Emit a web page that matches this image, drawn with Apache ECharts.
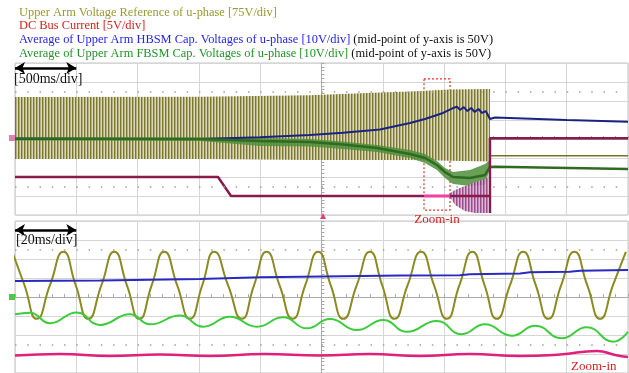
<!DOCTYPE html>
<html><head><meta charset="utf-8">
<script src="https://cdn.jsdelivr.net/npm/echarts@6/dist/echarts.min.js"></script>
<style>html,body{margin:0;padding:0;background:#fff}#c{width:629px;height:373px}</style>
</head><body><div id="c"></div>
<script>
// ===== Top panel: x = time in ms (500 ms/div, 0 at screen centre), y = divisions =====
const oliveBandTime  = [-2500, -991, -94, 477, 722, 1048, 1374];
const oliveBandUpper = [2.21, 2.23, 2.30, 2.45, 2.50, 2.60, 2.63];
const oliveBandLower = [-1.05, -1.05, -1.10, -1.10, -1.10, -1.15, -1.19];
const oliveAfterTrip = [[1374, -0.88], [2500, -0.88]];

const greenBandTime  = [-2500, -991, -502, -94, 175, 453, 722, 844, 942, 1007, 1073, 1211, 1334, 1374];
const greenBandUpper = [0.08, 0.08, 0.05, 0.00, -0.13, -0.32, -0.58, -0.79, -1.16, -1.53, -1.74, -1.63, -1.32, -1.11];
const greenBandLower = [-0.08, -0.11, -0.37, -0.39, -0.53, -0.68, -1.00, -1.26, -1.63, -2.05, -2.37, -2.47, -2.42, -1.53];
const greenTop = [[-2500, 0.02], [-991, 0.0], [-502, -0.11], [-94, -0.16], [175, -0.29], [453, -0.47], [722, -0.79],
  [844, -1.0], [942, -1.37], [1007, -1.74], [1073, -2.0], [1211, -2.05], [1334, -1.89], [1374, -1.47], [1415, -1.46], [2500, -1.58]];

const blueTop = [[-2500, 0.0], [-991, 0.0], [-502, 0.09], [-94, 0.21], [175, 0.33], [477, 0.50], [722, 0.84], [844, 1.05],
  [991, 1.37], [1073, 1.63], [1105, 1.70], [1130, 1.53], [1160, 1.68], [1190, 1.47], [1220, 1.63], [1250, 1.42], [1280, 1.58],
  [1310, 1.37], [1340, 1.47], [1374, 1.05], [1415, 1.13], [2000, 1.0], [2500, 0.91]];

const currentTime  = [1048, 1090, 1170, 1252, 1358];
const currentUpper = [-2.84, -2.68, -2.47, -2.26, -2.05];
const currentLower = [-3.05, -3.47, -3.79, -3.89, -3.89];
const currentTop = [[-2500, -2.0], [-844, -2.0], [-738, -3.0], [1048, -3.0], [1374, -3.0], [1374, -3.9], [1374, 0.04], [2500, 0.04]];
const currentZoomed = [[836, -3.0], [1048, -3.0]];
const zoomBox = [[836, 3.16], [1048, -3.74]];

// ===== Bottom panel: x = time in ms (20 ms/div), y = divisions =====
const voltRef = [[-100.9, 2.38], [-96.9, 0.62], [-92.9, -1.15], [-88.6, 0.62], [-84.2, 2.38], [-80.2, 0.62], [-76.1, -1.15],
  [-71.8, 0.62], [-67.6, 2.38], [-63.5, 0.62], [-59.4, -1.15], [-55.4, 0.62], [-51.3, 2.38], [-47.1, 0.62], [-42.9, -1.15],
  [-38.9, 0.62], [-35.0, 2.38], [-30.5, 0.62], [-26.0, -1.15], [-22.0, 0.62], [-17.9, 2.38], [-13.7, 0.62], [-9.4, -1.15],
  [-5.3, 0.62], [-1.1, 2.38], [3.0, 0.62], [7.1, -1.15], [11.5, 0.62], [15.8, 2.38], [19.8, 0.62], [23.8, -1.15],
  [28.1, 0.62], [32.5, 2.38], [36.7, 0.62], [40.9, -1.15], [45.0, 0.62], [49.2, 2.38], [53.2, 0.62], [57.2, -1.15],
  [61.5, 0.62], [65.8, 2.38], [69.9, 0.62], [74.0, -1.15], [78.2, 0.62], [82.5, 2.38], [86.7, 0.62], [90.9, -1.15],
  [95.1, 0.62], [99.3, 2.38]];
const hbsmAvg = [[-100, 0.84], [-72.3, 0.87], [-39.6, 0.95], [-20.1, 1.04], [0.2, 1.08], [25.6, 1.13], [45.2, 1.15],
  [48.4, 1.20], [64.8, 1.24], [68.0, 1.30], [81.0, 1.33], [84.3, 1.38], [100, 1.42]];
const fbsmAvg = [[-100, -0.91], [-95.1, -0.83], [-88.6, -1.38], [-79.9, -0.81], [-72.3, -1.47], [-62.5, -0.91], [-55.9, -1.44],
  [-46.2, -0.98], [-38.6, -1.56], [-29.9, -1.04], [-21.1, -1.56], [-12.5, -1.07], [-4.8, -1.65], [2.8, -1.16], [11.5, -1.74],
  [20.2, -1.21], [27.8, -1.83], [37.6, -1.26], [45.7, -1.96], [53.3, -1.44], [62.1, -2.04], [69.7, -1.51], [78.4, -2.17],
  [86.5, -1.59], [95.2, -2.35], [100, -1.83]];
const dcCurrent = [[-100, -3.08], [-85.3, -3.0], [-69.0, -3.11], [-52.7, -3.03], [-36.4, -3.11], [-18.5, -3.0], [-0.5, -3.08],
  [15.8, -3.0], [32.1, -3.11], [48.4, -3.0], [64.8, -3.11], [77.8, -3.03], [89.9, -2.84], [95.8, -3.05], [100, -3.16]];

const titleLines = [
  'Upper Arm Voltage Reference of u-phase [75V/div]',
  'DC Bus Current [5V/div]',
  'Average of Upper Arm HBSM Cap. Voltages of u-phase [10V/div]',
  'Average of Upper Arm FBSM Cap. Voltages of u-phase [10V/div]',
  ' (mid-point of y-axis is 50V)'
];

// stripe pattern for the densely oscillating traces
function stripes(cols) {
  const c = document.createElement('canvas');
  c.width = cols.length; c.height = 4;
  const g = c.getContext('2d');
  cols.forEach((col, i) => { g.fillStyle = col; g.fillRect(i, 0, 1, 4); });
  return c;
}
const pc = stripes(['#7b7733', '#b3af7c', '#dcd9b9']);
const pm = stripes(['#8e3a7e', '#b774ac', '#d9b2d2']);

const SERIF = 'Liberation Serif';
const F = '12.4px "' + SERIF + '"';
const gridLine = { show: true, lineStyle: { color: '#d6d6d6', width: 1 } };
function axisCommon() {
  return { axisLabel: { show: false }, splitLine: gridLine,
    axisLine: { show: true, onZero: true, lineStyle: { color: '#a9a9a9' } },
    axisTick: { show: true, inside: true, length: 3, lineStyle: { color: '#a9a9a9' } },
    minorTick: { show: true, splitNumber: 5, length: 3, lineStyle: { color: '#a9a9a9' } } };
}
function xAx(idx, min, max, step) {
  return Object.assign({ type: 'value', gridIndex: idx, min, max, interval: step }, axisCommon());
}
function yAx(idx) {
  return Object.assign({ type: 'value', gridIndex: idx, min: -4, max: 4, interval: 1 }, axisCommon());
}
const dotted = {
  silent: true, symbol: 'none', label: { show: false },
  lineStyle: { type: [1.5, 10.76], color: '#a0a0a0', width: 1.5 },
  data: [{ yAxis: 2.5 }, { yAxis: -2.5 }]
};
function arrowLine(x0, x1, y) {
  return { silent: true, symbol: ['arrow', 'arrow'], symbolSize: [9, 10], label: { show: false },
    lineStyle: { type: 'solid', color: '#000', width: 2.5 },
    data: [[{ coord: [x0, y] }, { coord: [x1, y] }]] };
}
const base = { type: 'line', symbol: 'none', silent: true, animation: false };
// envelope band (min..max of a dense oscillation) drawn as one polygon through the axes
function band(t, up, lo, style) {
  return { type: 'custom', xAxisIndex: 0, yAxisIndex: 0, silent: true, clip: true, animation: false,
    data: t.map((x, i) => [x, up[i], lo[i]]),
    encode: { x: 0, y: [1, 2] },
    renderItem: (params, api) => {
      if (params.dataIndex !== 0) return null;
      const pts = [];
      for (let i = 0; i < t.length; i++) pts.push(api.coord([t[i], up[i]]));
      for (let i = t.length - 1; i >= 0; i--) pts.push(api.coord([t[i], lo[i]]));
      return { type: 'polygon', shape: { points: pts }, style: style };
    } };
}

const option = {
  animation: false,
  grid: [
    { left: 15, top: 63, width: 613, height: 152, show: true, borderColor: '#c4c4c4', borderWidth: 1 },
    { left: 15, top: 221, width: 613, height: 152, show: true, borderColor: '#c4c4c4', borderWidth: 1 }
  ],
  xAxis: [xAx(0, -2500, 2500, 500), xAx(1, -100, 100, 20)],
  yAxis: [yAx(0), yAx(1)],
  graphic: [
    { type: 'text', z: 100, left: 19, top: 6.5, style: { text: titleLines[0], fill: '#999933', font: F } },
    { type: 'text', z: 100, left: 19, top: 20, style: { text: titleLines[1], fill: '#d42020', font: F } },
    { type: 'text', z: 100, left: 19, top: 34, style: { text: '{a|' + titleLines[2] + '}{b|' + titleLines[4] + '}',
        rich: { a: { fill: '#2424ee', font: F }, b: { fill: '#111', font: F } } } },
    { type: 'text', z: 100, left: 19, top: 47.5, style: { text: '{a|' + titleLines[3] + '}{b|' + titleLines[4] + '}',
        rich: { a: { fill: '#22922a', font: F }, b: { fill: '#111', font: F } } } },
    { type: 'text', z: 100, left: 14, top: 72, style: { text: '[500ms/div]', fill: '#111', font: '14px "' + SERIF + '"' } },
    { type: 'text', z: 100, left: 16, top: 233, style: { text: '[20ms/div]', fill: '#111', font: '14px "' + SERIF + '"' } },
    { type: 'text', z: 100, left: 571, top: 360, style: { text: 'Zoom-in', fill: '#d42020', font: '13px "' + SERIF + '"' } },
    { type: 'polygon', z: 100, shape: { points: [[320, 219], [326, 219], [323, 213]] }, style: { fill: '#e0407a' } },
    { type: 'rect', z: 100, shape: { x: 9, y: 135, width: 6, height: 6 }, style: { fill: '#e080b0' } },
    { type: 'rect', z: 100, shape: { x: 9, y: 294, width: 6, height: 6 }, style: { fill: '#50c850' } }
  ],
  series: [
    // ---- top panel ----
    Object.assign({}, base, { xAxisIndex: 0, yAxisIndex: 0, data: [], markLine: dotted }),
    band(oliveBandTime, oliveBandUpper, oliveBandLower, { fill: { image: pc, repeat: 'repeat' } }),
    Object.assign({}, base, { xAxisIndex: 0, yAxisIndex: 0, data: oliveAfterTrip, lineStyle: { color: '#77742a', width: 1.5 } }),
    Object.assign({}, base, { xAxisIndex: 0, yAxisIndex: 0, data: blueTop, lineStyle: { color: '#1c2280', width: 2 },
      markLine: arrowLine(-2500, -2000, 3.74) }),
    band(greenBandTime, greenBandUpper, greenBandLower, { fill: '#4f8f3a', opacity: 0.85 }),
    Object.assign({}, base, { xAxisIndex: 0, yAxisIndex: 0, data: greenTop, lineStyle: { color: '#2f6a22', width: 2.5 } }),
    band(currentTime, currentUpper, currentLower, { fill: { image: pm, repeat: 'repeat' }, opacity: 0.9 }),
    Object.assign({}, base, { xAxisIndex: 0, yAxisIndex: 0, data: currentTop, lineStyle: { color: '#8a1a4c', width: 2.5 } }),
    Object.assign({}, base, { xAxisIndex: 0, yAxisIndex: 0, data: currentZoomed, lineStyle: { color: '#ff3aa8', width: 2.5 },
      markArea: { silent: true,
        itemStyle: { color: 'rgba(0,0,0,0)', borderColor: '#e83030', borderWidth: 1.2, borderType: [2, 2] },
        label: { show: true, position: 'bottom', distance: 2, formatter: 'Zoom-in', color: '#d42020', fontFamily: SERIF, fontSize: 13 },
        data: [[{ coord: zoomBox[0] }, { coord: zoomBox[1] }]] } }),
    // ---- bottom panel ----
    Object.assign({}, base, { xAxisIndex: 1, yAxisIndex: 1, data: voltRef, smooth: 0.55, lineStyle: { color: '#8c8a22', width: 2 },
      markLine: dotted }),
    Object.assign({}, base, { xAxisIndex: 1, yAxisIndex: 1, data: hbsmAvg, lineStyle: { color: '#2a2ac0', width: 2 },
      markLine: arrowLine(-100, -80, 3.53) }),
    Object.assign({}, base, { xAxisIndex: 1, yAxisIndex: 1, data: fbsmAvg, smooth: 0.5, lineStyle: { color: '#3ccc3c', width: 2 } }),
    Object.assign({}, base, { xAxisIndex: 1, yAxisIndex: 1, data: dcCurrent, smooth: 0.5, lineStyle: { color: '#e0207a', width: 2.5 } })
  ]
};
const chart = echarts.init(document.getElementById('c'), null, { renderer: 'canvas' });
chart.setOption(option);
</script></body></html>
